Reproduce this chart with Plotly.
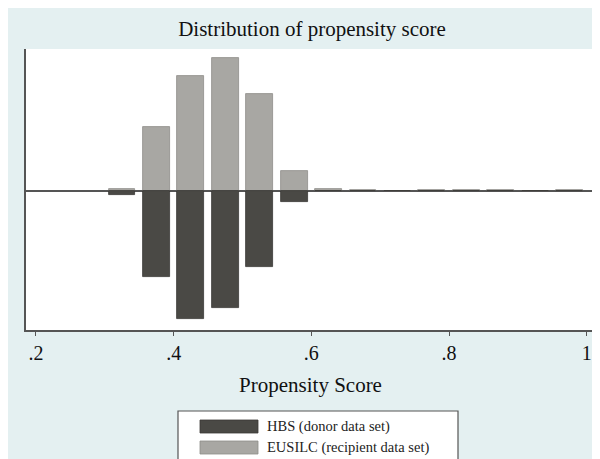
import plotly.graph_objects as go

# Data (fraction of observations per propensity-score bin, bin width 0.05)
bin_centers = [0.325, 0.375, 0.425, 0.475, 0.525, 0.575, 0.625, 0.675, 0.725,
               0.775, 0.825, 0.875, 0.925, 0.975]
eusilc_frac = [0.005, 0.145, 0.261, 0.302, 0.220, 0.046, 0.004, 0.002, 0.0,
               0.002, 0.002, 0.002, 0.0, 0.002]
hbs_frac = [0.009, 0.195, 0.292, 0.266, 0.172, 0.025, 0.001, 0.001, 0.0,
            0.001, 0.001, 0.001, 0.0, 0.001]
tick_vals = [0.2, 0.4, 0.6, 0.8, 1.0]
tick_text = [".2", ".4", ".6", ".8", "1"]
legend_labels = ["HBS (donor data set)", "EUSILC (recipient data set)"]

DARK = "#4a4945"
LIGHT = "#a8a7a3"
BG = "#e4f0f1"
FONT = "Liberation Serif"

fig = go.Figure()
fig.add_trace(go.Bar(
    x=bin_centers, y=eusilc_frac, width=0.039, name=legend_labels[1],
    marker=dict(color=LIGHT, line=dict(color="#8e8d89", width=0.8)),
    showlegend=False))
fig.add_trace(go.Bar(
    x=bin_centers, y=[-v for v in hbs_frac], width=0.039, name=legend_labels[0],
    marker=dict(color=DARK, line=dict(color="#3a3936", width=0.8)),
    showlegend=False))

# The page body has an 8px margin; the figure fills the rest of the window.
OFF = 8
W, H = 600 - OFF, 459 - OFF
# plot area in reference-window pixels: x 26..595, y 49..330
L, R, T, B = 26 - OFF, 600 - 595, 49 - OFF, 459 - 330
pw, ph = W - L - R, H - T - B

def px_x(x):  # reference window pixel -> paper x
    return (x - OFF - L) / pw

def px_y(y):  # reference window pixel -> paper y
    return (H - B - (y - OFF)) / ph

shapes = [
    # legend box
    dict(type="rect", xref="paper", yref="paper", x0=px_x(178), x1=px_x(458),
         y0=px_y(466), y1=px_y(411), fillcolor="white",
         line=dict(color="#555555", width=1.2)),
    # legend swatches
    dict(type="rect", xref="paper", yref="paper", x0=px_x(200), x1=px_x(258),
         y0=px_y(433), y1=px_y(420), fillcolor=DARK, line=dict(color="#3a3936", width=0.8)),
    dict(type="rect", xref="paper", yref="paper", x0=px_x(200), x1=px_x(258),
         y0=px_y(454), y1=px_y(441), fillcolor=LIGHT, line=dict(color="#8e8d89", width=0.8)),
]

annotations = [
    dict(text=legend_labels[0], xref="paper", yref="paper", x=px_x(265), y=px_y(426.5),
         xanchor="left", yanchor="middle", showarrow=False,
         font=dict(family=FONT, size=14.5, color="#222222")),
    dict(text=legend_labels[1], xref="paper", yref="paper", x=px_x(265), y=px_y(447.5),
         xanchor="left", yanchor="middle", showarrow=False,
         font=dict(family=FONT, size=14.5, color="#222222")),
]

fig.update_layout(
    width=W, height=H,
    margin=dict(l=L, r=R, t=T, b=B, autoexpand=False),
    paper_bgcolor=BG, plot_bgcolor="white",
    barmode="overlay", bargap=0,
    title=dict(text="Distribution of propensity score", x=px_x(312), xref="paper",
               xanchor="center", y=1 - (29 - OFF) / H, yanchor="middle",
               font=dict(family=FONT, size=21, color="#111111")),
    xaxis=dict(range=[0.1855, 1.012], tickvals=tick_vals, ticktext=tick_text,
               ticks="outside", ticklen=4, tickcolor="#555555", tickwidth=1.2,
               showline=True, linecolor="#555555", linewidth=1.5,
               showgrid=False, zeroline=False, automargin=False,
               tickfont=dict(family=FONT, size=20, color="#111111"),
               title=dict(text="Propensity Score", standoff=15,
                          font=dict(family=FONT, size=21, color="#111111"))),
    yaxis=dict(range=[-0.3159, 0.3227], showticklabels=False, ticks="",
               showline=True, linecolor="#555555", linewidth=1.5,
               showgrid=False, zeroline=True, zerolinecolor="#555555",
               zerolinewidth=1.5, automargin=False),
    shapes=shapes, annotations=annotations,
    showlegend=False,
)

fig.write_html("out.html")
